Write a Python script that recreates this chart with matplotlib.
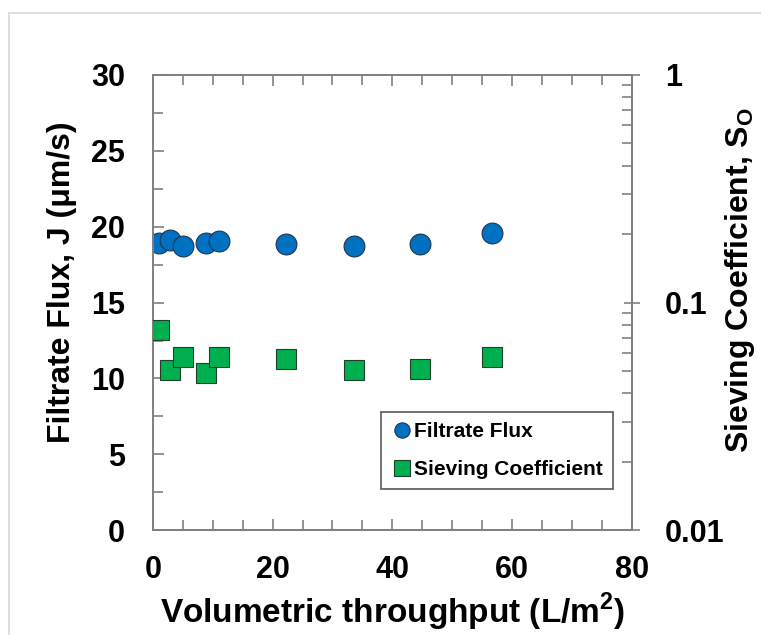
import matplotlib
matplotlib.use("Agg")
import matplotlib.pyplot as plt
from matplotlib.ticker import MultipleLocator, LogLocator, NullFormatter, FixedLocator
from matplotlib.lines import Line2D

plt.rcParams['font.family'] = ['Liberation Sans', 'DejaVu Sans']
plt.rcParams['font.weight'] = 'bold'
plt.rcParams['mathtext.fontset'] = 'custom'
plt.rcParams['mathtext.rm'] = 'Liberation Sans:bold'
plt.rcParams['mathtext.bf'] = 'Liberation Sans:bold'

# data
throughput = [1.0, 2.9, 5.1, 8.8, 11.0, 22.3, 33.6, 44.6, 56.7]
flux = [18.95, 19.1, 18.75, 18.95, 19.05, 18.85, 18.75, 18.85, 19.6]
sieving = [0.0757, 0.0505, 0.0578, 0.0489, 0.0578, 0.0565, 0.0505, 0.0512, 0.0578]

blue = '#0070C0'
green = '#00B050'
gray = '#808080'

fig = plt.figure(figsize=(7.61, 6.35), dpi=100)
ax = fig.add_axes([0.201, 0.165, 0.629, 0.717])
ax2 = ax.twinx()

# thin frame round the picture
fig.add_artist(Line2D([9/761, 1], [1 - 13/635, 1 - 13/635], color='#d9d9d9', lw=1.2))
fig.add_artist(Line2D([9/761, 9/761], [0, 1 - 13/635], color='#d9d9d9', lw=1.2))

ax.plot(throughput, flux, 'o', ms=15, color=blue, mec='#1f3550', mew=0.8, zorder=3)
ax2.plot(throughput, sieving, 's', ms=15, color=green, mec='#1f3f28', mew=0.8, zorder=3)

ax.set_xlim(0, 80)
ax.set_ylim(0, 30)
ax2.set_yscale('log')
ax2.set_ylim(0.01, 1)

ax.xaxis.set_major_locator(MultipleLocator(20))
ax.xaxis.set_minor_locator(MultipleLocator(5))
ax.yaxis.set_major_locator(MultipleLocator(5))
ax.yaxis.set_minor_locator(MultipleLocator(2.5))
ax2.yaxis.set_major_locator(FixedLocator([0.01, 0.1, 1]))
ax2.yaxis.set_minor_locator(LogLocator(base=10, subs=range(2, 10)))
ax2.yaxis.set_minor_formatter(NullFormatter())
ax2.set_yticklabels(['0.01', '0.1', '1'])

for a in (ax, ax2):
    for s in a.spines.values():
        s.set_color(gray)
        s.set_linewidth(1.3)

ax.tick_params(axis='both', which='both', direction='in', color=gray, width=1.2,
               labelsize=22, top=False)
ax.tick_params(axis='both', which='major', length=8, pad=20)
ax.tick_params(axis='both', which='minor', length=7)
ax.tick_params(axis='x', which='both', top=True)
ax.tick_params(axis='x', which='major', pad=18)
ax2.tick_params(axis='y', which='major', direction='inout', length=12, width=1.2,
                color=gray, labelsize=22, pad=18)
ax2.tick_params(axis='y', which='minor', direction='in', length=7, width=1.2, color=gray)

for lab in ax.get_xticklabels() + ax.get_yticklabels() + ax2.get_yticklabels():
    lab.set_fontweight('bold')

ax.set_xlabel('Volumetric throughput (L/m$^\\mathrm{2}$)', fontsize=24, fontweight='bold', labelpad=4)
ax.set_ylabel('Filtrate Flux, J (μm/s)', fontsize=23, fontweight='bold')
ax2.set_ylabel('Sieving Coefficient, S$_\\mathrm{O}$', fontsize=23, fontweight='bold')
ax.yaxis.set_label_coords(-0.158, 0.545)
ax2.yaxis.set_label_coords(1.19, 0.55)

handles = [Line2D([], [], ls='', marker='o', ms=11, color=blue, mec='#1f3550', mew=0.8),
           Line2D([], [], ls='', marker='s', ms=11, color=green, mec='#1f3f28', mew=0.8)]
leg = ax.legend(handles, ['Filtrate Flux', 'Sieving Coefficient'],
                loc='lower right', bbox_to_anchor=(0.962, 0.09),
                prop={'weight': 'bold', 'size': 15}, fancybox=False, framealpha=1,
                edgecolor='#595959', handletextpad=0.1, handlelength=1.0,
                labelspacing=0.9, borderpad=0.5, borderaxespad=0)
leg.get_frame().set_linewidth(1.2)

fig.savefig('out.png', dpi=100)
